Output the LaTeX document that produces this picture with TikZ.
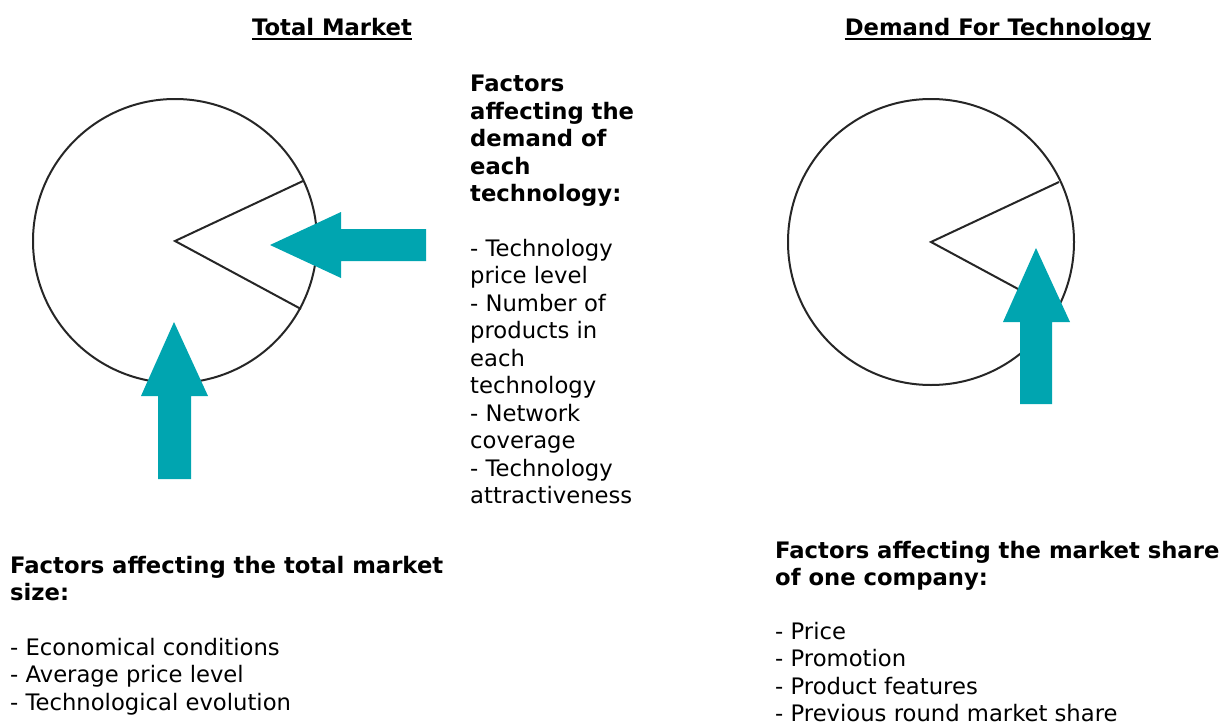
\documentclass[tikz,border=0pt]{standalone}
\usepackage{fontspec}
\setmainfont{DejaVu Sans}
\usetikzlibrary{calc}

\definecolor{arrowteal}{RGB}{0,165,176}
\tikzset{
  every node/.style={inner sep=0pt},
  plain/.style={font=\fontsize{22.7}{27.5}\selectfont,align=left,anchor=north west},
  strong/.style={font=\fontsize{22.7}{27.5}\selectfont\bfseries,align=left,anchor=north west},
  headline/.style={font=\fontsize{22.7}{27.5}\selectfont\bfseries,anchor=base},
  pieline/.style={draw=black!85,line width=2pt},
  push/.style={fill=arrowteal,draw=none}
}

\begin{document}
\begin{tikzpicture}[x=1pt,y=-1pt]
  \useasboundingbox (0,0) rectangle (1226,725);

  % headings
  \node[headline] (total) at (332,36) {Total Market};
  \node[headline] (tech) at (998,36) {Demand For Technology};
  \draw[line width=1.6pt] ([yshift=-3pt]total.base west) -- ([yshift=-3pt]total.base east);
  \draw[line width=1.6pt] ([yshift=-3pt]tech.base west) -- ([yshift=-3pt]tech.base east);

  % the two pies
  \coordinate (lc) at (175,241);
  \coordinate (rc) at (931,242);
  \draw[pieline] (lc) circle (142);
  \draw[pieline] ($(lc)+(128,-60)$) -- (lc) -- ($(lc)+(126,68)$);
  \draw[pieline] (rc) circle (143);
  \draw[pieline] ($(rc)+(128,-60)$) -- (rc) -- ($(rc)+(126,68)$);

  % arrows pushing on the pies
  \fill[push] (426,229) -- (341,229) -- (341,212) -- (270,245)
    -- (341,278) -- (341,261) -- (426,261) -- cycle;
  \fill[push] (158,479) -- (158,396) -- (141,396) -- (174,322)
    -- (208,396) -- (191,396) -- (191,479) -- cycle;
  \fill[push] (1020,404) -- (1020,322) -- (1003,322) -- (1036,248)
    -- (1070,322) -- (1052,322) -- (1052,404) -- cycle;

  % factor lists
  \node[strong] (demandhead) at (470,75)
    {Factors\\affecting the\\demand of\\each\\technology:};
  \node[plain] (demandlist) at (470,239)
    {- Technology\\price level\\- Number of\\products in\\each\\technology\\- Network\\coverage\\- Technology\\attractiveness};

  \node[strong] (sizehead) at (10,556)
    {Factors affecting the total market\\size:};
  \node[plain] (sizelist) at (10,638)
    {- Economical conditions\\- Average price level\\- Technological evolution};

  \node[strong] (sharehead) at (775,541)
    {Factors affecting the market share\\of one company:};
  \node[plain] (sharelist) at (775,622)
    {- Price\\- Promotion\\- Product features\\- Previous round market share};
\end{tikzpicture}
\end{document}
